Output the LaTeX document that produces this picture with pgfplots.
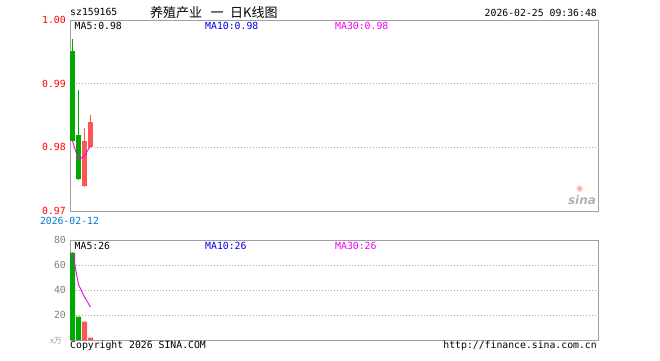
\documentclass[border=0pt]{standalone}
\usepackage{pgfplots}
\pgfplotsset{compat=1.18}
\usepackage{pgfplotstable}
\usepackage{fontspec}
\setmainfont{DejaVu Sans Mono}
\newfontfamily\cjk{Noto Sans CJK SC}
\newfontfamily\sans{DejaVu Sans}
\definecolor{kgreen}{RGB}{0,168,0}
\definecolor{kred}{RGB}{255,85,85}
\definecolor{framec}{RGB}{160,160,160}
\definecolor{gridc}{RGB}{170,170,170}
\definecolor{mablue}{RGB}{0,0,230}
\definecolor{mamag}{RGB}{240,0,240}
\definecolor{datec}{RGB}{0,122,204}
\definecolor{tickgrey}{RGB}{128,128,128}
\newcommand\mono{\fontsize{9.8pt}{11pt}\selectfont}

% OHLC, falling days (green)
\pgfplotstableread{
x o c h l
0 0.9951 0.9810 0.9970 0.9810
1 0.9819 0.9750 0.9890 0.9749
}\greenK
% rising days (red)
\pgfplotstableread{
x o c h l
2 0.9740 0.9810 0.9831 0.9738
3 0.9801 0.9840 0.9851 0.9801
}\redK

\begin{document}
\begin{tikzpicture}[x=1pt,y=1pt]
\path[use as bounding box] (0,0) rectangle (660,360);

\pgfplotsset{
  kbase/.style={
    scale only axis,
    width=528pt,
    anchor=south west,
    xmin=-0.4167, xmax=87.583,
    xtick=\empty,
    axis line style={framec, line width=1pt},
    major tick length=0pt,
    ymajorgrids,
    grid style={gridc, line width=0.8pt, dash pattern=on 1pt off 2pt},
    yticklabel style={font=\mono, anchor=east, inner sep=0pt, xshift=-4pt},
    /pgf/number format/assume math mode=true,
  }
}

% ---- price panel ----
\begin{axis}[kbase,
  at={(70pt,149pt)}, height=191pt,
  ymin=0.97, ymax=1.00,
  ytick={0.97,0.98,0.99,1.00},
  yticklabels={0.97,0.98,0.99,1.00},
  yticklabel style={text=red},
]
% wicks
\addplot[draw=none, forget plot, error bars/.cd, y dir=plus, y explicit,
  error mark=none, error bar style={kgreen, line width=1pt}]
  table[x=x, y=l, y error plus expr=\thisrow{h}-\thisrow{l}] {\greenK};
\addplot[draw=none, forget plot, error bars/.cd, y dir=plus, y explicit,
  error mark=none, error bar style={kred, line width=1pt}]
  table[x=x, y=l, y error plus expr=\thisrow{h}-\thisrow{l}] {\redK};
% bodies
\addplot[draw=none, forget plot, error bars/.cd, y dir=plus, y explicit,
  error mark=none, error bar style={kgreen, line width=5pt}]
  table[x=x, y=c, y error plus expr=\thisrow{o}-\thisrow{c}] {\greenK};
\addplot[draw=none, forget plot, error bars/.cd, y dir=plus, y explicit,
  error mark=none, error bar style={kred, line width=5pt}]
  table[x=x, y=o, y error plus expr=\thisrow{c}-\thisrow{o}] {\redK};
% MA5
\addplot[mamag, line width=0.9pt, mark=none] coordinates {
 (0,0.9810) (1,0.9780) (2,0.97867) (3,0.98025)};
\end{axis}

% ---- volume panel ----
\begin{axis}[kbase,
  at={(70pt,20pt)}, height=100pt,
  ymin=0, ymax=80,
  ytick={20,40,60,80},
  yticklabels={20,40,60,80},
  yticklabel style={text=tickgrey},
]
\addplot[ybar, bar width=5pt, bar shift=0pt, fill=kgreen, draw=none]
  coordinates {(0,70) (1,18.7)};
\addplot[ybar, bar width=5pt, bar shift=0pt, fill=kred, draw=none]
  coordinates {(2,14.7) (3,1.9)};
\addplot[mamag, line width=0.9pt, mark=none] coordinates {
 (0,70) (1,44.35) (2,34.47) (3,26.3)};
\end{axis}

% ---- texts ----
\node[anchor=west, inner sep=0pt, font=\mono] at (70,348) {sz159165};
\node[anchor=west, inner sep=0pt, font=\cjk\fontsize{13pt}{14pt}\selectfont] at (150,347.5) {养殖产业\hspace{8.5pt}一\hspace{6.5pt}日K线图};
\node[anchor=east, inner sep=0pt, font=\mono] at (597,347.5) {2026-02-25 09:36:48};

\node[anchor=west, inner sep=0pt, font=\mono] at (74.5,334) {MA5:0.98};
\node[anchor=west, inner sep=0pt, font=\mono, text=mablue] at (205,334) {MA10:0.98};
\node[anchor=west, inner sep=0pt, font=\mono, text=mamag] at (335,334) {MA30:0.98};

\node[inner sep=0pt, font=\mono, text=datec] at (69.5,139) {2026-02-12};

\node[anchor=west, inner sep=0pt, font=\mono] at (74.5,114.5) {MA5:26};
\node[anchor=west, inner sep=0pt, font=\mono, text=mablue] at (205,114.5) {MA10:26};
\node[anchor=west, inner sep=0pt, font=\mono, text=mamag] at (335,114.5) {MA30:26};

\node[inner sep=0pt, font=\cjk\fontsize{8pt}{9pt}\selectfont, text=tickgrey!80] at (56,19) {x万};

\node[anchor=west, inner sep=0pt, font=\mono] at (70,14.3) {Copyright 2026 SINA.COM};
\node[anchor=east, inner sep=0pt, font=\mono] at (597,14.3) {http://finance.sina.com.cn};

\node[inner sep=0pt, font=\sans\bfseries\itshape\fontsize{12pt}{12pt}\selectfont, text=black!30] at (582,160) {sina};
\node[inner sep=0pt, font=\sans\fontsize{9pt}{9pt}\selectfont, text=kred!50] at (580,171) {✺};
\end{tikzpicture}
\end{document}
